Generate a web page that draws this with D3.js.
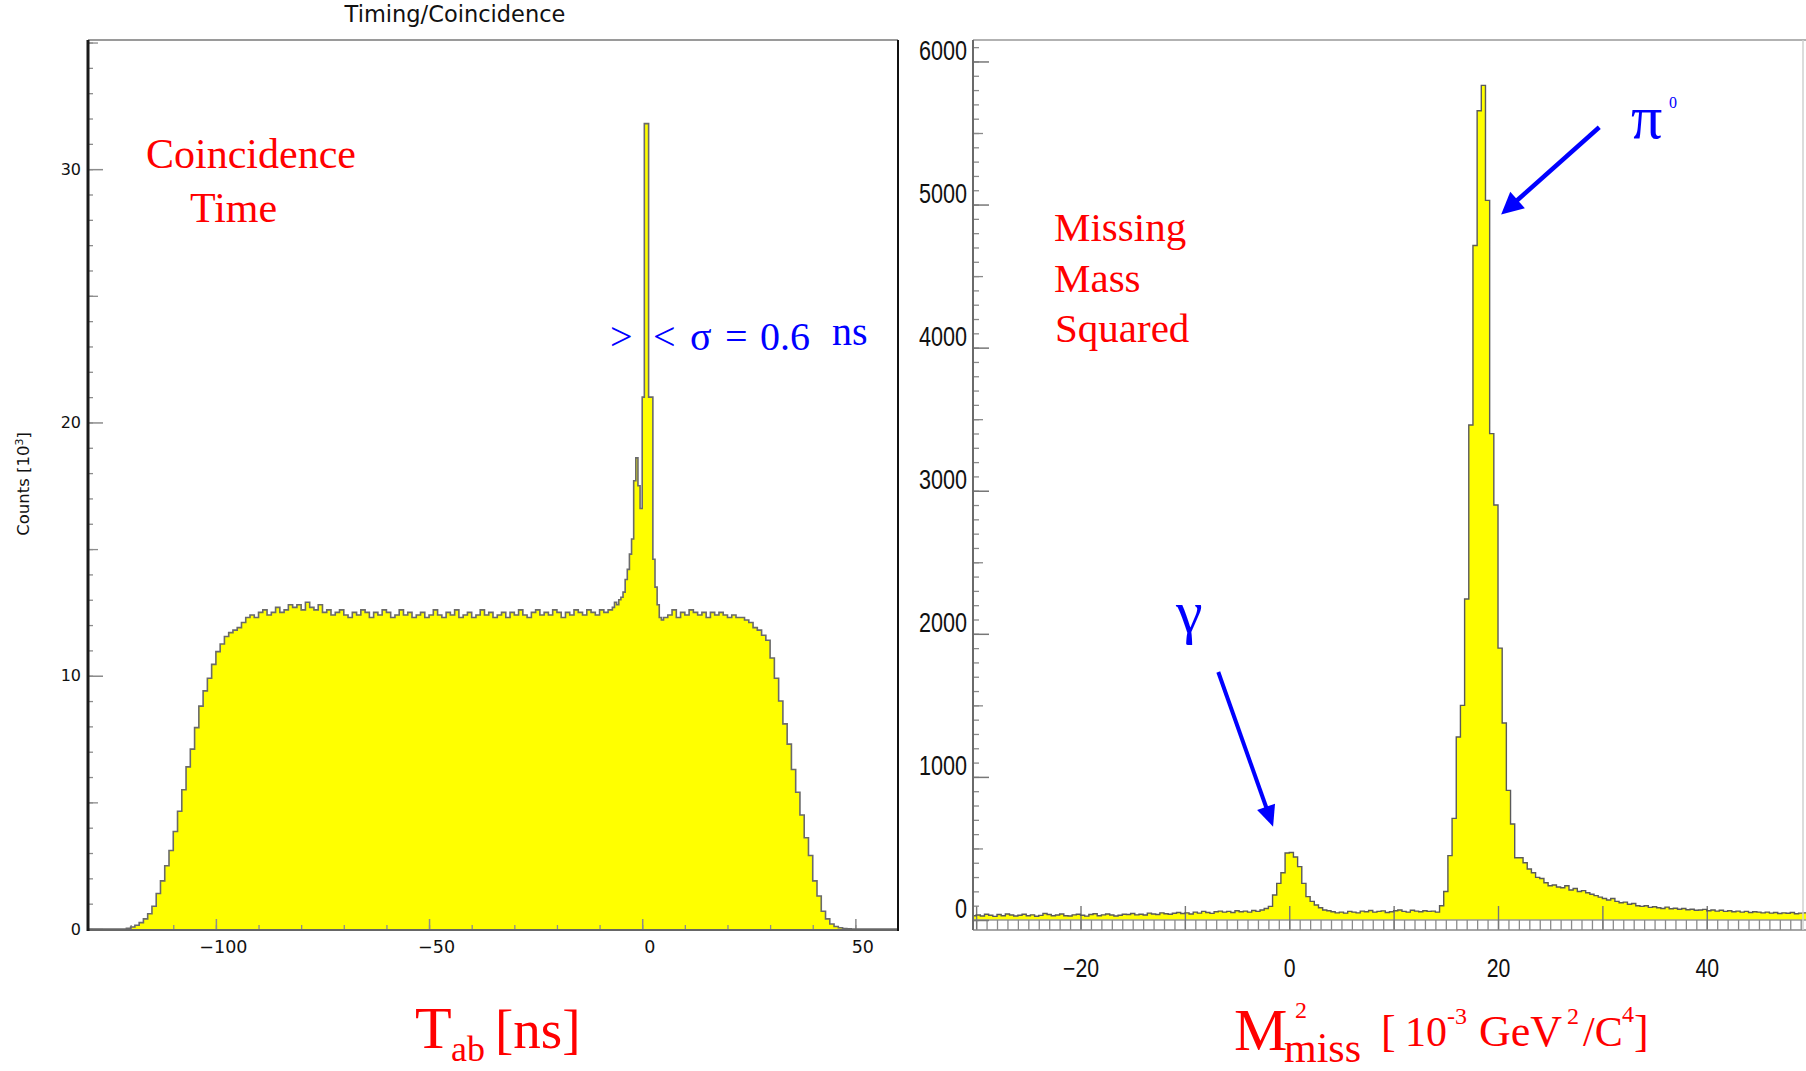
<!DOCTYPE html>
<html lang="en">
<head>
<meta charset="UTF-8">
<title>Coincidence Time / Missing Mass Squared</title>
<style>
  html, body { margin: 0; padding: 0; background: #fff; }
  svg { display: block; }
  .lab-l { font-family: "DejaVu Sans", sans-serif; font-size: 16px; fill: #111; }
  .lab-r { font-family: "Liberation Sans", Arial, sans-serif; fill: #111; }
  .serif { font-family: "Liberation Serif", "Times New Roman", serif; }
</style>
</head>
<body>
<div id="chart"></div>
<script src="https://d3js.org/d3.v7.min.js"></script>
<script>
// ---------- left: coincidence time T_ab [ns], counts in 10^3 ----------
// three runs of bins: 1 ns, 0.5 ns around the peak, 1 ns again
const tabRunStart = [-130, -7, 5];
const tabRunWidth = [1, 0.5, 1];
const tabCountsLow = [
  0, 0, 0, 0, 0, 0, 0, 0, 0,
  0.03, 0.08, 0.15, 0.25, 0.4, 0.6, 0.9, 1.4, 1.9, 2.5,
  3.1, 3.85, 4.65, 5.5, 6.4, 7.1, 7.95, 8.8, 9.4, 9.9,
  10.45, 10.95, 11.25, 11.55, 11.7, 11.8, 11.9, 12.1, 12.3,
  12.4, 12.3, 12.5, 12.6, 12.4, 12.5, 12.7, 12.5, 12.6, 12.8,
  12.7, 12.8, 12.6, 12.9, 12.7, 12.6, 12.8, 12.5, 12.6, 12.4,
  12.5, 12.6, 12.4, 12.3, 12.5, 12.4, 12.6, 12.5, 12.3, 12.5,
  12.4, 12.6, 12.5, 12.3, 12.4, 12.6, 12.4, 12.5, 12.3, 12.4,
  12.5, 12.3, 12.4, 12.6, 12.4, 12.3, 12.5, 12.4, 12.6, 12.3,
  12.4, 12.5, 12.3, 12.4, 12.6, 12.4, 12.5, 12.3, 12.4, 12.5,
  12.3, 12.5, 12.4, 12.6, 12.4, 12.3, 12.5, 12.6, 12.4, 12.5,
  12.4, 12.6, 12.5, 12.3, 12.5, 12.4, 12.6, 12.5, 12.4, 12.6,
  12.5, 12.4, 12.6, 12.5, 12.6
];
const tabCountsPeak = [
  12.7, 12.9, 12.8, 13.0, 13.1, 13.3, 13.8, 14.2, 14.8, 15.4,
  17.7, 18.6, 17.5, 16.6, 21.0, 31.8, 31.8, 21.0, 21.0, 14.6,
  13.5, 12.8, 12.3, 12.2
];
const tabCountsHigh = [
  12.3, 12.4, 12.6, 12.3, 12.5, 12.4, 12.6, 12.5, 12.4, 12.5,
  12.3, 12.5, 12.4, 12.5, 12.4, 12.3, 12.4,
  12.3, 12.3, 12.2, 12.1, 11.9, 11.8, 11.6, 11.4, 10.7, 9.9,
  9.0, 8.1, 7.3, 6.3, 5.4, 4.5, 3.6, 2.9, 1.9, 1.3,
  0.7, 0.4, 0.2, 0.1, 0.05, 0.02, 0.01,
  0, 0, 0, 0, 0, 0, 0, 0, 0, 0, 0
];
const tabXTicks = [-100, -50, 0, 50];
const tabYTicks = [0, 10, 20, 30];

// ---------- right: missing mass squared [10^-3 GeV^2/c^4], 0.4 wide bins ----------
const mmStart = -30.4;
const mmWidth = 0.4;
const mmCounts = [
  30, 35, 28, 40, 33, 25, 38, 30, 42, 35,
  28, 33, 40, 30, 36, 26, 32, 45, 38, 30,
  35, 42, 30, 28, 36, 40, 33, 27, 38, 44,
  30, 36, 42, 35, 28, 33, 40, 38, 45, 36,
  40, 35, 48, 42, 38, 50, 44, 40, 47, 52,
  45, 50, 42, 55, 48, 60, 52, 46, 58, 62,
  55, 60, 52, 65, 58, 62, 55, 66, 60, 70,
  80, 95, 175, 256, 330, 468, 472, 440, 373, 256,
  163, 130, 105, 85, 70, 65, 58, 50, 55, 48,
  60, 55, 50, 62, 58, 66, 55, 60, 64, 52,
  58, 65, 70, 60, 55, 68, 62, 58, 65, 60,
  62, 55, 100, 199, 450, 710, 1279, 1500, 2243, 3459,
  4714, 5656, 5833, 5029, 3399, 2900, 1900, 1377, 906, 671,
  435, 435, 400, 356, 330, 298, 290, 260, 239, 245,
  230, 225, 239, 210, 220, 199, 205, 190, 180, 170,
  160, 150, 140, 150, 130, 120, 125, 110, 115, 100,
  95, 100, 88, 92, 85, 80, 90, 78, 82, 75,
  80, 72, 75, 68, 70, 74, 65, 70, 62, 68,
  60, 65, 58, 62, 55, 60, 52, 58, 55, 50,
  55, 48, 52, 45, 50, 47, 52, 44, 48, 50,
  50
];
const mmXTicks = [-20, 0, 20, 40];
const mmYTicks = [0, 1000, 2000, 3000, 4000, 5000, 6000];

// annotation arrows, in data units of the right panel: [from, to]
const pi0Arrow = [[29.7, 5540], [20.3, 4930]];
const gammaArrow = [[-6.8, 1733], [-1.55, 652]];

const W = 1806, H = 1071;
const L = { left: 88, right: 898, top: 40, bottom: 929 };
const R = { left: 973, right: 1808, top: 40, bottom: 930 };

const svg = d3.select("#chart").append("svg")
  .attr("width", W)
  .attr("height", H);

const xL = d3.scaleLinear().domain([-130, 60]).range([L.left, L.right]);
const yL = d3.scaleLinear().domain([0, 35.1]).range([L.bottom, L.top]);
const xR = d3.scaleLinear().domain([-30.3, 49.7]).range([R.left, R.right]);
const yR = d3.scaleLinear().domain([-70, 6150]).range([R.bottom, R.top]);

// turn runs of bin contents into step points {x: low edge, v: content}
function stepPoints(runs, starts, widths) {
  const pts = [];
  runs.forEach((counts, r) => {
    counts.forEach((c, i) => pts.push({ x: starts[r] + i * widths[r], v: c }));
  });
  const last = runs.length - 1;
  pts.push({ x: starts[last] + runs[last].length * widths[last], v: pts[pts.length - 1].v });
  return pts;
}

function tickAxis(g, axis, color, width) {
  g.call(axis);
  g.select(".domain").remove();
  g.selectAll(".tick line").attr("stroke", color).attr("stroke-width", width);
  return g;
}

// one text element made of positioned pieces: [text, x, y, size]
function richText(g, pieces, color) {
  const t = g.append("text").attr("class", "serif").attr("fill", color);
  pieces.forEach(([s, x, y, size]) => {
    t.append("tspan").attr("x", x).attr("y", y).style("font-size", size + "px").text(s);
  });
  return t;
}

const red = "#ff0000", blue = "#0000ff";

// ================= left panel =================
const tabPts = stepPoints([tabCountsLow, tabCountsPeak, tabCountsHigh], tabRunStart, tabRunWidth);
const gL = svg.append("g");

gL.append("path")
  .datum(tabPts)
  .attr("fill", "#ffff00")
  .attr("d", d3.area().curve(d3.curveStepAfter)
    .x(d => xL(d.x)).y0(yL(0)).y1(d => yL(d.v)));

// y ticks: every 1, every 5, labelled every 10
gL.append("g").attr("transform", `translate(${L.left},0)`)
  .call(g => tickAxis(g, d3.axisLeft(yL).tickValues(d3.range(0, 36)).tickSize(-5).tickFormat(""), "#8c8c8c", 1.3));
gL.append("g").attr("transform", `translate(${L.left},0)`)
  .call(g => tickAxis(g, d3.axisLeft(yL).tickValues([5, 15, 25, 35]).tickSize(-10).tickFormat(""), "#8c8c8c", 1.3));
gL.append("g").attr("transform", `translate(${L.left},0)`)
  .call(g => tickAxis(g, d3.axisLeft(yL).tickValues(tabYTicks).tickSize(-15).tickPadding(7).tickFormat(d3.format("d")), "#8c8c8c", 1.5))
  .selectAll("text").attr("class", "lab-l");

// x ticks: every 10, labelled every 50
gL.append("g").attr("transform", `translate(0,${L.bottom})`)
  .call(g => tickAxis(g, d3.axisBottom(xL).tickValues(d3.range(-120, 60, 10)).tickSize(-4).tickFormat(""), "#8c8c8c", 1.3));
gL.append("g").attr("transform", `translate(0,${L.bottom})`)
  .call(g => tickAxis(g, d3.axisBottom(xL).tickValues(tabXTicks).tickSize(-10).tickPadding(12), "#8c8c8c", 1.5))
  .selectAll("text").attr("class", "lab-l").style("font-size", "17.5px").attr("dx", 7);

gL.append("path")
  .datum(tabPts)
  .attr("fill", "none")
  .attr("stroke", "#6a6a6a")
  .attr("stroke-width", 1.6)
  .attr("d", d3.line().curve(d3.curveStepAfter).x(d => xL(d.x)).y(d => yL(d.v)));

// frame
gL.append("line").attr("x1", L.left).attr("x2", L.right).attr("y1", L.top).attr("y2", L.top)
  .attr("stroke", "#9a9a9a").attr("stroke-width", 2);
gL.append("line").attr("x1", L.left).attr("x2", L.right).attr("y1", L.bottom + 1).attr("y2", L.bottom + 1)
  .attr("stroke", "#666").attr("stroke-width", 2);
gL.append("line").attr("x1", L.left).attr("x2", L.left).attr("y1", L.top).attr("y2", L.bottom + 2)
  .attr("stroke", "#1a1a1a").attr("stroke-width", 3);
gL.append("line").attr("x1", L.right).attr("x2", L.right).attr("y1", L.top).attr("y2", L.bottom + 2)
  .attr("stroke", "#111").attr("stroke-width", 2);

gL.append("text").attr("class", "lab-l")
  .attr("x", 455).attr("y", 22).attr("text-anchor", "middle").style("font-size", "22.5px")
  .text("Timing/Coincidence");

const countsLab = gL.append("text").attr("class", "lab-l")
  .attr("transform", "translate(29,484) rotate(-90)")
  .attr("text-anchor", "middle")
  .style("font-size", "16.5px");
countsLab.append("tspan").text("Counts  [10");
countsLab.append("tspan").attr("dy", -6).style("font-size", "11px").text("3");
countsLab.append("tspan").attr("dy", 6).text("]");

// red labels
richText(gL, [["Coincidence", 146, 168, 42], ["Time", 190, 222, 42]], red);

// sigma annotation beside the peak
richText(gL, [
  [">", 610, 350, 40], ["<", 653, 350, 40], ["σ", 690, 350, 40],
  ["=", 725, 350, 40], ["0.6", 760, 350, 40], ["ns", 832, 345, 40]
], blue);

// axis title T_ab [ns]
richText(gL, [["T", 415, 1048, 60], ["ab", 451, 1061, 36], ["[ns]", 495, 1048, 55]], red);

// ================= right panel =================
const mmPts = stepPoints([mmCounts], [mmStart], [mmWidth]);
const gR = svg.append("g");

svg.append("clipPath").attr("id", "clipR")
  .append("rect").attr("x", R.left).attr("y", R.top)
  .attr("width", R.right - R.left).attr("height", R.bottom - R.top);

const gRc = gR.append("g").attr("clip-path", "url(#clipR)");

gRc.append("path")
  .datum(mmPts)
  .attr("fill", "#ffff00")
  .attr("d", d3.area().curve(d3.curveStepAfter)
    .x(d => xR(d.x)).y0(yR(0)).y1(d => yR(d.v)));

gRc.append("line").attr("x1", R.left).attr("x2", R.right).attr("y1", yR(0)).attr("y2", yR(0))
  .attr("stroke", "#9a9a9a").attr("stroke-width", 1.3);

// x ticks: every 1, every 10, labelled every 20
gRc.append("g").attr("transform", `translate(0,${R.bottom})`)
  .call(g => tickAxis(g, d3.axisBottom(xR).tickValues(d3.range(-30, 50, 1)).tickSize(-10).tickFormat(""), "#8a8a8a", 1.3));
gRc.append("g").attr("transform", `translate(0,${R.bottom})`)
  .call(g => tickAxis(g, d3.axisBottom(xR).tickValues(d3.range(-30, 50, 10)).tickSize(-24).tickFormat(""), "#777", 1.4));

gRc.append("path")
  .datum(mmPts)
  .attr("fill", "none")
  .attr("stroke", "#5a5a5a")
  .attr("stroke-width", 1.4)
  .attr("d", d3.line().curve(d3.curveStepAfter).x(d => xR(d.x)).y(d => yR(d.v)));

gR.append("g").attr("transform", `translate(0,${R.bottom})`)
  .call(g => tickAxis(g, d3.axisBottom(xR).tickValues(mmXTicks).tickSize(0).tickPadding(29), "#777", 1))
  .selectAll("text")
  .attr("class", "lab-r").style("font-size", "25px")
  .attr("transform", "scale(0.85,1)");

// y ticks: every 100, every 500, labelled every 1000
gR.append("g").attr("transform", `translate(${R.left},0)`)
  .call(g => tickAxis(g, d3.axisLeft(yR).tickValues(d3.range(0, 6101, 100)).tickSize(-6).tickFormat(""), "#8a8a8a", 1.3));
gR.append("g").attr("transform", `translate(${R.left},0)`)
  .call(g => tickAxis(g, d3.axisLeft(yR).tickValues(d3.range(500, 6100, 1000)).tickSize(-10).tickFormat(""), "#8a8a8a", 1.3));
gR.append("g").attr("transform", `translate(${R.left},0)`)
  .call(g => tickAxis(g, d3.axisLeft(yR).tickValues(mmYTicks).tickSize(-16).tickPadding(6).tickFormat(d3.format("d")), "#777", 1.5))
  .selectAll("text")
  .attr("class", "lab-r").style("font-size", "27px")
  .attr("y", -11)
  .attr("transform", "translate(-6,0) scale(0.8,1) translate(6,0)");

// frame
gR.append("line").attr("x1", R.left).attr("x2", R.right).attr("y1", R.top).attr("y2", R.top)
  .attr("stroke", "#999").attr("stroke-width", 1.6);
gR.append("line").attr("x1", R.left).attr("x2", R.right).attr("y1", R.bottom).attr("y2", R.bottom)
  .attr("stroke", "#888").attr("stroke-width", 1.6);
gR.append("line").attr("x1", R.left).attr("x2", R.left).attr("y1", R.top).attr("y2", R.bottom)
  .attr("stroke", "#6a6a6a").attr("stroke-width", 2);
gR.append("line").attr("x1", 1803).attr("x2", 1803).attr("y1", R.top).attr("y2", R.bottom)
  .attr("stroke", "#d0d0d0").attr("stroke-width", 1.5);

// labels
richText(gR, [["Missing", 1054, 241, 41], ["Mass", 1054, 292, 41], ["Squared", 1055, 342, 41]], red);

function arrow(g, pts, width, headLen, headHalf) {
  const [a, b] = pts.map(([v, c]) => [xR(v), yR(c)]);
  const dx = b[0] - a[0], dy = b[1] - a[1];
  const len = Math.hypot(dx, dy);
  const ux = dx / len, uy = dy / len;
  const bx = b[0] - ux * headLen, by = b[1] - uy * headLen;
  g.append("line")
    .attr("x1", a[0]).attr("y1", a[1]).attr("x2", bx + ux * 2).attr("y2", by + uy * 2)
    .attr("stroke", blue).attr("stroke-width", width);
  g.append("path")
    .attr("fill", blue)
    .attr("d", `M${b[0]},${b[1]}L${bx - uy * headHalf},${by + ux * headHalf}L${bx + uy * headHalf},${by - ux * headHalf}Z`);
}
arrow(gR, pi0Arrow, 4.5, 22, 11);
arrow(gR, gammaArrow, 4, 21, 9.5);

richText(gR, [["π", 1631, 138, 62], ["0", 1669, 108, 16]], blue);
richText(gR, [["γ", 1176, 632, 60]], blue);

// axis title M^2_miss [ 10^-3 GeV^2/C^4 ]
richText(gR, [
  ["M", 1234, 1050, 60],
  ["2", 1295, 1018, 24],
  ["miss", 1284, 1062, 42],
  ["[", 1381, 1046, 44],
  ["10", 1405, 1046, 42],
  ["-3", 1447, 1024, 24],
  ["GeV", 1479, 1046, 44],
  ["2", 1567, 1024, 24],
  ["/C", 1583, 1046, 42],
  ["4", 1622, 1022, 24],
  ["]", 1634, 1046, 44]
], red);
</script>
</body>
</html>
